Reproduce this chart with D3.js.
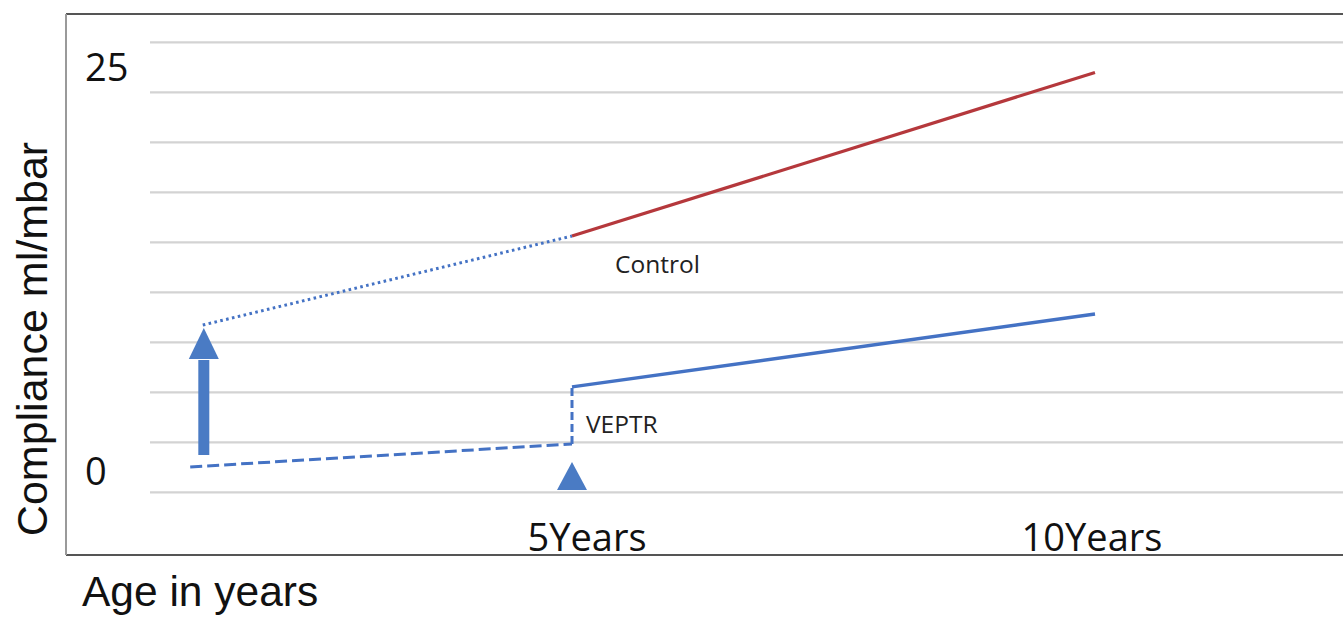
<!DOCTYPE html>
<html>
<head>
<meta charset="utf-8">
<script src="https://cdn.jsdelivr.net/npm/d3@7"></script>
<style>
  html, body { margin: 0; padding: 0; background: #fff; }
  svg { display: block; }
</style>
</head>
<body>
<svg id="chart" width="1343" height="617"></svg>
<script>
// ---- data (compliance ml/mbar vs age in years) ----
const xTickValues = [5, 10];
const xTickLabels = ["5Years", "10Years"];
const yTickValues = [25, 0];
const yTickLabels = ["25", "0"];

// Control: estimated early course (dotted) and measured course (solid)
const controlEarlyAge = [1.47, 5];
const controlEarlyVal = [8.97, 14.48];
const controlAge = [5, 10];
const controlVal = [14.48, 24.6];

// VEPTR: before implantation (dashed, incl. jump at 5 years) and after (solid)
const veptrEarlyAge = [1.35, 5, 5];
const veptrEarlyVal = [0.19, 1.61, 5.14];
const veptrAge = [5, 10];
const veptrVal = [5.14, 9.65];

// Arrow (growth gap) and triangle (implantation marker)
const arrowAge = 1.48;
const arrowFrom = 0.93, arrowHeadBase = 6.87, arrowTip = 8.79;
const markerAge = 5;
const markerTop = 0.5, markerBase = -1.24;

// grid lines (in compliance units)
const gridStart = -1.39, gridStep = 3.094, gridCount = 10;

// ---- layout ----
const svg = d3.select("#chart");
const W = 1343, H = 617;
const frame = { left: 66, top: 14, bottom: 555 };
const x = d3.scaleLinear().domain([0, 10]).range([49, 1095]);
const y = d3.scaleLinear().domain([0, 25]).range([470, 66]);

const red = "#b5383c", blue = "#4472c4", arrowBlue = "#4a7bc4";
const labelFont = "'Open Sans', 'DejaVu Sans', sans-serif";
const titleFont = "'Liberation Sans', Arial, sans-serif";

// grid lines
const gridVals = d3.range(gridCount).map(i => gridStart + i * gridStep);
svg.append("g").selectAll("line").data(gridVals).join("line")
  .attr("x1", 150).attr("x2", W)
  .attr("y1", d => y(d)).attr("y2", d => y(d))
  .attr("stroke", "#d3d3d3").attr("stroke-width", 2.2);

// frame
svg.append("line").attr("x1", frame.left).attr("x2", W).attr("y1", frame.top).attr("y2", frame.top)
  .attr("stroke", "#555").attr("stroke-width", 2);
svg.append("line").attr("x1", frame.left).attr("x2", W).attr("y1", frame.bottom).attr("y2", frame.bottom)
  .attr("stroke", "#555").attr("stroke-width", 2);
svg.append("line").attr("x1", frame.left).attr("x2", frame.left).attr("y1", frame.top).attr("y2", frame.bottom)
  .attr("stroke", "#9a9a9a").attr("stroke-width", 2);

// lines
const line = d3.line().x(d => x(d[0])).y(d => y(d[1]));
const zip = (a, b) => a.map((v, i) => [v, b[i]]);

svg.append("path").datum(zip(controlEarlyAge, controlEarlyVal)).attr("d", line)
  .attr("fill", "none").attr("stroke", blue).attr("stroke-width", 3)
  .attr("stroke-dasharray", "2.6,3.4");
svg.append("path").datum(zip(controlAge, controlVal)).attr("d", line)
  .attr("fill", "none").attr("stroke", red).attr("stroke-width", 3.2);

const vEarly = zip(veptrEarlyAge, veptrEarlyVal);
svg.append("path").datum(vEarly.slice(0, 2)).attr("d", line)
  .attr("fill", "none").attr("stroke", blue).attr("stroke-width", 3)
  .attr("stroke-dasharray", "12,5");
svg.append("path").datum(vEarly.slice(1)).attr("d", line)
  .attr("fill", "none").attr("stroke", blue).attr("stroke-width", 3)
  .attr("stroke-dasharray", "8,4");
svg.append("path").datum(zip(veptrAge, veptrVal)).attr("d", line)
  .attr("fill", "none").attr("stroke", blue).attr("stroke-width", 3.4);

// arrow
const ax = x(arrowAge);
svg.append("line").attr("x1", ax).attr("x2", ax)
  .attr("y1", y(arrowFrom)).attr("y2", y(arrowHeadBase) + 1)
  .attr("stroke", arrowBlue).attr("stroke-width", 11);
svg.append("path")
  .attr("d", `M${ax},${y(arrowTip)} L${ax + 15},${y(arrowHeadBase)} L${ax - 15},${y(arrowHeadBase)} Z`)
  .attr("fill", arrowBlue);

// triangle marker
const mx = x(markerAge);
svg.append("path")
  .attr("d", `M${mx},${y(markerTop)} L${mx + 15},${y(markerBase)} L${mx - 15},${y(markerBase)} Z`)
  .attr("fill", arrowBlue);

// series labels
svg.append("text").attr("x", x(controlAge[0]) + 43).attr("y", y(controlVal[0]) + 37)
  .attr("font-family", labelFont).attr("font-size", 24.5).attr("fill", "#222").text("Control");
svg.append("text").attr("x", x(veptrEarlyAge[1]) + 14).attr("y", y(veptrEarlyVal[1]) - 11)
  .attr("font-family", labelFont).attr("font-size", 24.5).attr("fill", "#222").text("VEPTR");

// y tick labels
svg.append("g").selectAll("text").data(yTickValues).join("text")
  .attr("x", 85).attr("y", d => y(d))
  .attr("dominant-baseline", "central")
  .attr("font-family", labelFont).attr("font-size", 38).attr("fill", "#111")
  .text((d, i) => yTickLabels[i]);

// x tick labels
const xLabelShift = [15, -3];
svg.append("g").selectAll("text").data(xTickValues).join("text")
  .attr("x", (d, i) => x(d) + xLabelShift[i]).attr("y", 551)
  .attr("text-anchor", "middle")
  .attr("font-family", labelFont).attr("font-size", 38).attr("fill", "#111")
  .text((d, i) => xTickLabels[i]);

// axis titles
svg.append("text").attr("transform", "translate(47,339) rotate(-90)")
  .attr("text-anchor", "middle")
  .attr("font-family", titleFont).attr("font-size", 43).attr("fill", "#111")
  .text("Compliance ml/mbar");
svg.append("text").attr("x", 82).attr("y", 606)
  .attr("font-family", titleFont).attr("font-size", 42.5).attr("fill", "#111")
  .text("Age in years");
</script>
</body>
</html>
